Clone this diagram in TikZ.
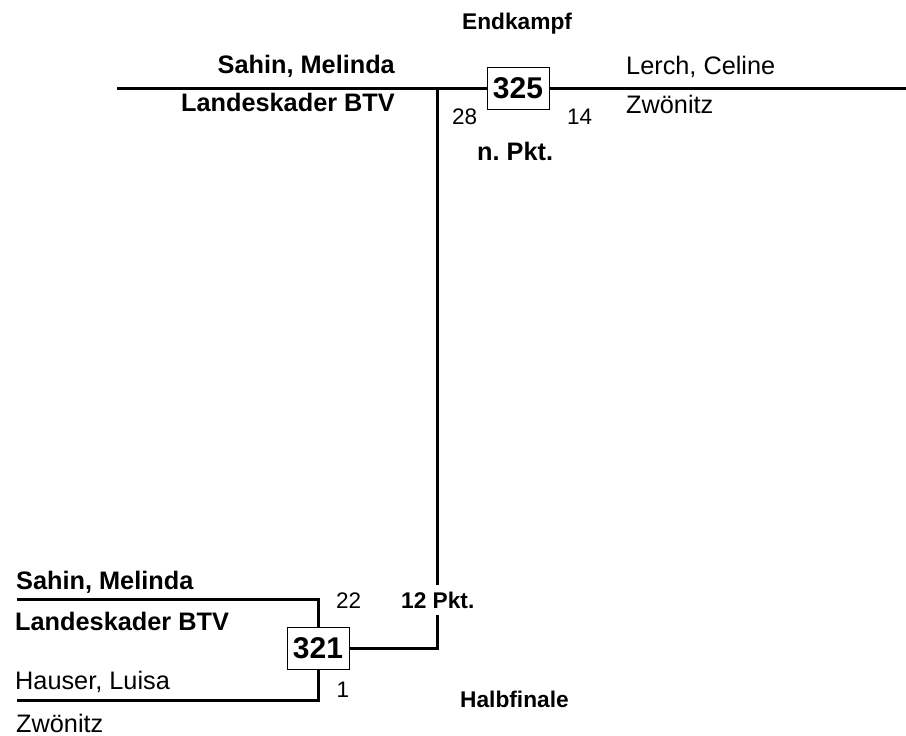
\documentclass[tikz,border=0pt]{standalone}
\usepackage{fontspec}
\setmainfont{Liberation Sans}
\begin{document}
\begin{tikzpicture}[x=1pt,y=-1pt,
  lbl/.style={inner sep=0pt},
  nameb/.style={lbl,font=\fontsize{25.3}{28}\selectfont\bfseries},
  namer/.style={lbl,font=\fontsize{25.3}{28}\selectfont},
  score/.style={lbl,font=\fontsize{22.5}{26}\selectfont},
  round/.style={lbl,font=\fontsize{22.7}{26}\selectfont\bfseries},
  matchbox/.style={draw,line width=1pt,minimum width=62pt,minimum height=42pt,inner sep=0pt,font=\fontsize{30}{34}\selectfont\bfseries},
  bline/.style={line width=3pt},
]
\useasboundingbox (0,0) rectangle (906,736);
% Final
\node[round,anchor=base west] (endk) at (462,29) {Endkampf};
\node[nameb,anchor=base east] (n1) at (395,73) {Sahin, Melinda};
\node[nameb,anchor=base east] (c1) at (395,111) {Landeskader BTV};
\node[namer,anchor=base west] (n2) at (626,74) {Lerch, Celine};
\node[namer,anchor=base west] (c2) at (626,113) {Zwönitz};
\node[matchbox] (m325) at (518,88.5) {325};
\node[score,anchor=base west] (s28) at (452,124) {28};
\node[score,anchor=base west] (s14) at (567,124) {14};
\node[nameb,anchor=base west] (npkt) at (477,160) {n.\ Pkt.};
\coordinate (tl) at (117,88.5);
\coordinate (tr) at (906,88.5);
\coordinate (jn) at (437.5,88.5);
\draw[bline] (tl) -- (m325.west);
\draw[bline] (m325.east) -- (tr);
% Semifinal
\node[nameb,anchor=base west] (n3) at (16,589) {Sahin, Melinda};
\node[nameb,anchor=base west] (c3) at (15,630) {Landeskader BTV};
\node[namer,anchor=base west] (n4) at (15,689) {Hauser, Luisa};
\node[namer,anchor=base west] (c4) at (16,732) {Zwönitz};
\node[matchbox] (m321) at (318,648) {321};
\node[score,anchor=base west] (s22) at (336,608) {22};
\node[score,anchor=base west] (s1) at (336.5,697) {1};
\node[round,anchor=base west] (halb) at (460,707) {Halbfinale};
\coordinate (a1) at (17,599);
\coordinate (a2) at (17,700);
\draw[bline] (a1) -- (a1 -| m321.north) -- (m321.north);
\draw[bline] (a2) -- (a2 -| m321.south) -- (m321.south);
\coordinate (kn) at (437.5,648);
\draw[bline] (m321.east) -- (kn) -- (jn);
\node[round,fill=white,inner xsep=1pt,inner ysep=6.5pt,anchor=base west] (pkt12) at (400,608) {12 Pkt.};
\end{tikzpicture}
\end{document}
